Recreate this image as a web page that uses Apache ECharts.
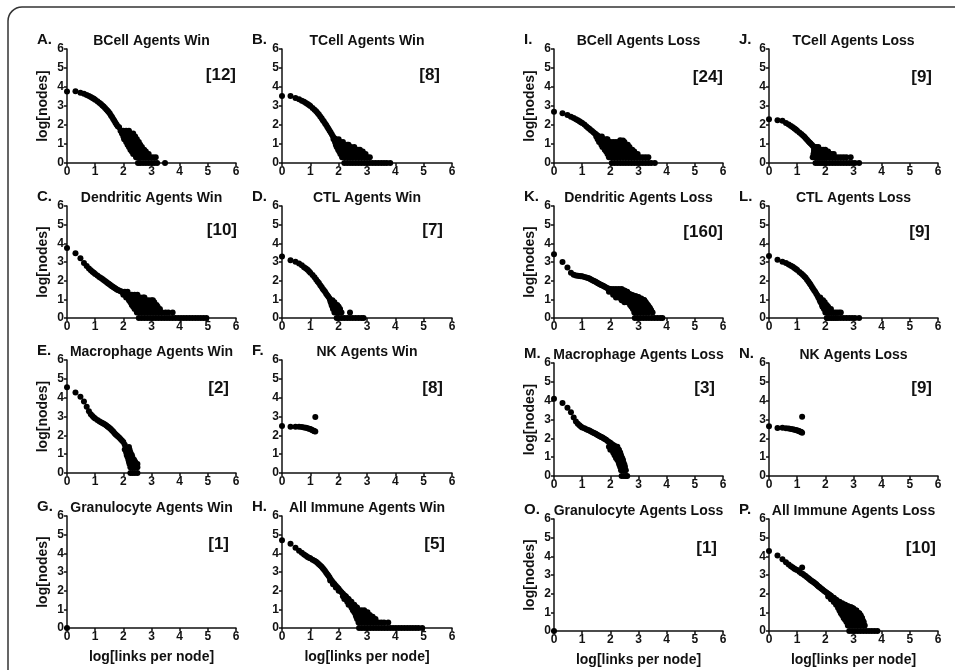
<!DOCTYPE html>
<html><head><meta charset="utf-8">
<script src="https://cdn.jsdelivr.net/npm/echarts@6/dist/echarts.min.js"></script>
<style>html,body{margin:0;padding:0;background:#fff}#c{width:955px;height:670px}</style>
</head><body><div id="c"></div>
<script>
const letters = ['A.','B.','C.','D.','E.','F.','G.','H.','I.','J.','K.','L.','M.','N.','O.','P.'];
const titles = ['BCell Agents Win','TCell Agents Win','Dendritic Agents Win','CTL Agents Win','Macrophage Agents Win','NK Agents Win','Granulocyte Agents Win','All Immune Agents Win',
  'BCell Agents Loss','TCell Agents Loss','Dendritic Agents Loss','CTL Agents Loss','Macrophage Agents Loss','NK Agents Loss','Granulocyte Agents Loss','All Immune Agents Loss'];
const counts = ['[12]','[8]','[10]','[7]','[2]','[8]','[1]','[5]','[24]','[9]','[160]','[9]','[3]','[9]','[1]','[10]'];
const tickValues = [0,1,2,3,4,5,6];
const yName = 'log[nodes]';
const xName = 'log[links per node]';

// ---- A. BCell Win
const bcellWinHead = [[0,3.76],[0.301,3.78],[0.477,3.7],[0.602,3.64],[0.699,3.58],[0.778,3.52],[0.845,3.47],[0.903,3.42],[0.954,3.38],[1,3.33],[1.079,3.25],[1.146,3.17],[1.204,3.1],[1.255,3.03],[1.301,2.97],[1.35,2.9],[1.398,2.82],[1.44,2.75],[1.477,2.68],[1.52,2.6],[1.56,2.5],[1.6,2.42],[1.64,2.32],[1.68,2.22],[1.72,2.12],[1.76,2.02],[1.8,1.94],[1.85,1.88]];
const bcellWinRows = [[1.7,[1.9,2.0,2.1,2.2]],[1.55,[1.95,2.05,2.15,2.25,2.35]],[1.4,[2.0,2.1,2.2,2.3,2.42]],[1.25,[2.03,2.13,2.23,2.33,2.43,2.48]],[1.1,[2.1,2.2,2.3,2.4,2.5,2.55]],[0.954,[2.15,2.25,2.35,2.45,2.55,2.6]],[0.845,[2.2,2.3,2.4,2.5,2.6,2.66]],[0.699,[2.25,2.35,2.45,2.55,2.65,2.74]],[0.602,[2.3,2.4,2.5,2.6,2.7,2.8]],[0.477,[2.35,2.45,2.55,2.65,2.75,2.85,2.9]],[0.301,[2.45,2.55,2.65,2.75,2.85,2.95,3.05,3.15]],[0,[2.52,2.6,2.7,2.8,2.9,3.0,3.1,3.2,3.48]]];
// ---- B. TCell Win
const tcellWinHead = [[0,3.52],[0.301,3.52],[0.477,3.42],[0.602,3.35],[0.699,3.28],[0.778,3.22],[0.845,3.16],[0.903,3.1],[0.954,3.05],[1,3.0],[1.079,2.9],[1.146,2.8],[1.204,2.72],[1.255,2.63],[1.301,2.55],[1.35,2.45],[1.398,2.35],[1.44,2.25],[1.477,2.18],[1.52,2.08],[1.56,2.0],[1.6,1.9],[1.64,1.8],[1.68,1.7],[1.72,1.6],[1.76,1.5],[1.8,1.4],[1.85,1.3],[1.9,1.2]];
const tcellWinRows = [[1.25,[1.82,1.9,2.0]],[1.1,[1.87,1.95,2.05,2.15]],[0.954,[1.9,2.0,2.1,2.2,2.3,2.35]],[0.845,[1.93,2.03,2.13,2.23,2.33,2.43,2.55]],[0.699,[1.98,2.08,2.18,2.28,2.38,2.48,2.58,2.68,2.75]],[0.602,[2.02,2.12,2.22,2.32,2.42,2.52,2.62,2.72,2.85]],[0.477,[2.06,2.16,2.26,2.36,2.46,2.56,2.66,2.76,2.86,2.95]],[0.301,[2.12,2.22,2.32,2.42,2.52,2.62,2.72,2.82,2.92,3.02,3.1]],[0,[2.2,2.3,2.4,2.5,2.6,2.7,2.8,2.9,3.0,3.1,3.2,3.3,3.4,3.5,3.6,3.7,3.82]]];
// ---- C. Dendritic Win
const dendWinHead = [[0,3.75],[0.301,3.47],[0.477,3.2],[0.602,2.95],[0.699,2.78],[0.778,2.65],[0.845,2.56],[0.903,2.48],[0.954,2.42],[1,2.36],[1.079,2.28],[1.146,2.2],[1.204,2.14],[1.255,2.09],[1.301,2.04],[1.35,1.98],[1.398,1.93],[1.44,1.88],[1.477,1.84],[1.52,1.79],[1.56,1.74],[1.6,1.7],[1.64,1.66],[1.68,1.62],[1.72,1.58],[1.76,1.54],[1.8,1.5],[1.85,1.47],[1.9,1.43],[1.95,1.4]];
const dendWinRows = [[1.4,[1.95,2.05,2.15]],[1.25,[2.0,2.1,2.2,2.3,2.4,2.5]],[1.1,[2.1,2.2,2.3,2.4,2.5,2.6,2.7,2.75]],[0.954,[2.2,2.3,2.4,2.5,2.6,2.7,2.8,2.9,3.0,3.05]],[0.845,[2.25,2.35,2.45,2.55,2.65,2.75,2.85,2.95,3.05,3.1]],[0.699,[2.3,2.4,2.5,2.6,2.7,2.8,2.9,3.0,3.1,3.18]],[0.602,[2.35,2.45,2.55,2.65,2.75,2.85,2.95,3.05,3.15,3.22]],[0.477,[2.4,2.5,2.6,2.7,2.8,2.9,3.0,3.1,3.2,3.3]],[0.301,[2.48,2.58,2.68,2.78,2.88,2.98,3.08,3.18,3.28,3.38,3.5,3.6,3.75]],[0,[2.55,2.65,2.75,2.85,2.95,3.05,3.15,3.25,3.35,3.45,3.55,3.65,3.75,3.85,3.95,4.05,4.15,4.25,4.35,4.45,4.55,4.65,4.75,4.85,4.95]]];
// ---- D. CTL Win
const ctlWinHead = [[0,3.3],[0.301,3.1],[0.477,3.02],[0.602,2.92],[0.699,2.82],[0.778,2.72],[0.845,2.65],[0.903,2.58],[0.954,2.5],[1,2.42],[1.079,2.3],[1.146,2.18],[1.204,2.06],[1.255,1.96],[1.301,1.87],[1.35,1.76],[1.398,1.66],[1.44,1.56],[1.477,1.48],[1.52,1.4],[1.56,1.3],[1.6,1.22],[1.64,1.14],[1.68,1.05]];
const ctlWinRows = [[0.954,[1.7,1.78]],[0.845,[1.72,1.8,1.85]],[0.699,[1.75,1.83,1.9,1.95]],[0.602,[1.78,1.86,1.93,2.0]],[0.477,[1.8,1.88,1.96,2.05]],[0.301,[1.85,1.93,2.01,2.1,2.4]],[0,[1.93,2.0,2.1,2.2,2.3,2.4,2.5,2.6,2.7,2.8,2.88]]];
// ---- E. Macrophage Win
const macWinHead = [[0,4.55],[0.301,4.28],[0.477,4.05],[0.602,3.79],[0.699,3.52],[0.778,3.28],[0.845,3.12],[0.903,3.02],[0.954,2.95],[1,2.9],[1.079,2.82],[1.146,2.75],[1.204,2.7],[1.255,2.66],[1.301,2.62],[1.35,2.57],[1.398,2.52],[1.44,2.47],[1.477,2.43],[1.52,2.38],[1.56,2.32],[1.6,2.26],[1.64,2.2],[1.68,2.13],[1.72,2.06],[1.76,2.0],[1.8,1.95],[1.85,1.88],[1.9,1.8],[1.95,1.72],[2.0,1.64],[2.05,1.5],[2.2,1.38]];
const macWinRows = [[1.25,[2.05,2.15,2.22]],[1.1,[2.1,2.18,2.25]],[0.954,[2.12,2.2,2.28,2.3]],[0.845,[2.15,2.23,2.32]],[0.699,[2.18,2.26,2.34,2.38]],[0.602,[2.2,2.28,2.36,2.42]],[0.477,[2.22,2.3,2.38,2.46,2.5]],[0.301,[2.25,2.33,2.41,2.5]],[0,[2.25,2.33,2.41,2.5]]];
// ---- F. NK Win
const nkWinHead = [[0,2.5],[0.301,2.45],[0.477,2.45],[0.602,2.45],[0.699,2.44],[0.778,2.42],[0.845,2.4],[0.903,2.38],[0.954,2.35],[1,2.33],[1.041,2.3],[1.079,2.27],[1.114,2.24],[1.146,2.22],[1.176,2.2],[1.176,2.97]];
const nkWinRows = [];
// ---- G. Granulocyte Win
const granWinHead = [[0,0]];
const granWinRows = [];
// ---- H. All Immune Win
const allWinHead = [[0,4.7],[0.301,4.51],[0.477,4.3],[0.602,4.14],[0.699,4.03],[0.778,3.94],[0.845,3.87],[0.903,3.81],[0.954,3.77],[1,3.73],[1.079,3.66],[1.146,3.6],[1.204,3.55],[1.255,3.48],[1.301,3.42],[1.35,3.35],[1.398,3.28],[1.44,3.2],[1.477,3.13],[1.52,3.05],[1.56,2.96],[1.6,2.88],[1.64,2.8],[1.68,2.7],[1.72,2.6],[1.76,2.52],[1.8,2.44],[1.85,2.36],[1.9,2.26],[1.95,2.18],[2.0,2.1],[2.05,2.0],[2.1,1.92],[2.15,1.84],[2.2,1.76],[2.25,1.68],[2.3,1.6],[2.35,1.5],[2.4,1.42],[2.45,1.33],[2.5,1.25],[2.55,1.18],[2.6,1.12],[1.7,2.55],[1.8,2.35],[1.9,2.17],[2.0,2.0]];
const allWinRows = [[1.7,[2.15,2.25]],[1.55,[2.2,2.28,2.35]],[1.4,[2.3,2.38,2.45]],[1.25,[2.35,2.45,2.55]],[1.1,[2.45,2.55,2.65]],[0.954,[2.5,2.6,2.7,2.8,2.9]],[0.845,[2.55,2.65,2.75,2.85,2.95,3.02]],[0.699,[2.6,2.7,2.8,2.9,3.0,3.1]],[0.602,[2.62,2.72,2.82,2.92,3.02,3.12,3.2]],[0.477,[2.65,2.75,2.85,2.95,3.05,3.15,3.25,3.3]],[0.301,[2.7,2.8,2.9,3.0,3.1,3.2,3.3,3.4,3.5,3.6,3.75]],[0,[2.72,2.82,2.92,3.02,3.12,3.22,3.32,3.42,3.52,3.62,3.72,3.82,3.92,4.02,4.12,4.22,4.32,4.42,4.52,4.62,4.72,4.82,4.95]]];
// ---- I. BCell Loss
const bcellLossHead = [[0,2.7],[0.301,2.62],[0.477,2.52],[0.602,2.44],[0.699,2.37],[0.778,2.3],[0.845,2.25],[0.903,2.2],[0.954,2.15],[1,2.1],[1.079,2.02],[1.146,1.94],[1.204,1.86],[1.255,1.8],[1.301,1.74],[1.35,1.68],[1.398,1.62],[1.44,1.57],[1.477,1.52],[1.52,1.47],[1.56,1.42],[2.35,1.2],[2.45,1.18]];
const bcellLossRows = [[1.4,[1.5,1.6,1.7]],[1.25,[1.55,1.65,1.75,1.85,1.9]],[1.1,[1.6,1.7,1.8,1.9,2.0,2.1,2.2,2.3,2.4,2.5]],[0.954,[1.68,1.78,1.88,1.98,2.08,2.18,2.28,2.38,2.48,2.58,2.62]],[0.845,[1.72,1.82,1.92,2.02,2.12,2.22,2.32,2.42,2.52,2.62,2.68]],[0.699,[1.8,1.9,2.0,2.1,2.2,2.3,2.4,2.5,2.6,2.7,2.78]],[0.602,[1.85,1.95,2.05,2.15,2.25,2.35,2.45,2.55,2.65,2.75,2.85]],[0.477,[1.9,2.0,2.1,2.2,2.3,2.4,2.5,2.6,2.7,2.8,2.9,2.97]],[0.301,[1.95,2.05,2.15,2.25,2.35,2.45,2.55,2.65,2.75,2.85,2.95,3.05,3.15,3.25,3.35]],[0,[2.05,2.15,2.25,2.35,2.45,2.55,2.65,2.75,2.85,2.95,3.05,3.15,3.25,3.35,3.45,3.58]]];
// ---- J. TCell Loss
const tcellLossHead = [[0,2.3],[0.301,2.25],[0.477,2.22],[0.602,2.1],[0.699,2.02],[0.778,1.95],[0.845,1.88],[0.903,1.82],[0.954,1.76],[1,1.7],[1.079,1.6],[1.146,1.52],[1.204,1.45],[1.255,1.38],[1.301,1.3],[1.35,1.22],[1.398,1.15],[1.44,1.08],[1.477,1.02],[1.52,0.96],[1.56,0.9]];
const tcellLossRows = [[0.845,[1.6,1.68,1.75]],[0.699,[1.6,1.68,1.76,1.84,1.92,2.0]],[0.602,[1.6,1.68,1.76,1.84,1.92,2.0,2.1]],[0.477,[1.58,1.66,1.74,1.82,1.9,1.98,2.06,2.14,2.22,2.3]],[0.301,[1.55,1.63,1.71,1.79,1.87,1.95,2.03,2.11,2.19,2.27,2.35,2.45,2.55,2.65,2.75,2.9]],[0,[1.65,1.73,1.81,1.89,1.97,2.05,2.15,2.25,2.35,2.45,2.55,2.65,2.75,2.85,2.95,3.05,3.2]]];
// ---- K. Dendritic Loss
const dendLossHead = [[0,3.42],[0.301,3.0],[0.477,2.7],[0.602,2.43],[0.699,2.32],[0.778,2.28],[0.845,2.26],[0.903,2.25],[0.954,2.24],[1,2.23],[1.079,2.2],[1.146,2.17],[1.204,2.14],[1.255,2.11],[1.301,2.08],[1.35,2.04],[1.398,2.0],[1.44,1.97],[1.477,1.94],[1.52,1.9],[1.56,1.86],[1.6,1.83],[1.64,1.8],[1.68,1.77],[1.72,1.74],[1.76,1.71],[1.8,1.68],[1.85,1.64],[1.9,1.6],[1.95,1.57],[2.0,1.54],[2.05,1.5],[2.1,1.47],[2.15,1.45],[2.2,1.44],[2.25,1.43],[2.3,1.42],[2.35,1.44],[2.4,1.46],[2.45,1.48],[2.5,1.47],[2.55,1.42],[2.6,1.36],[2.65,1.3],[2.7,1.27],[2.8,1.22],[2.9,1.18],[3.0,1.12],[3.1,1.05],[3.2,0.96],[3.25,0.86],[3.3,0.75],[3.35,0.65],[3.4,0.55],[3.45,0.42]];
const dendLossRows = [[1.55,[2.0,2.1,2.2,2.3,2.4]],[1.4,[1.95,2.05,2.15,2.25,2.35,2.45,2.55,2.6]],[1.25,[2.1,2.2,2.3,2.4,2.5,2.6,2.7,2.75]],[1.1,[2.2,2.3,2.4,2.5,2.6,2.7,2.8,2.9,3.0]],[0.954,[2.4,2.5,2.6,2.7,2.8,2.9,3.0,3.1,3.2]],[0.845,[2.5,2.6,2.7,2.8,2.9,3.0,3.1,3.2,3.25]],[0.699,[2.7,2.8,2.9,3.0,3.1,3.2,3.32]],[0.602,[2.75,2.85,2.95,3.05,3.15,3.25,3.36]],[0.477,[2.8,2.9,3.0,3.1,3.2,3.3,3.42]],[0.301,[2.85,2.95,3.05,3.15,3.25,3.35,3.5]],[0,[2.87,2.97,3.07,3.17,3.27,3.37,3.47,3.57,3.67,3.77,3.85]]];
// ---- L. CTL Loss
const ctlLossHead = [[0,3.32],[0.301,3.12],[0.477,3.02],[0.602,2.94],[0.699,2.87],[0.778,2.8],[0.845,2.74],[0.903,2.68],[0.954,2.62],[1,2.57],[1.079,2.47],[1.146,2.38],[1.204,2.3],[1.255,2.22],[1.301,2.15],[1.35,2.05],[1.398,1.96],[1.44,1.86],[1.477,1.78],[1.52,1.68],[1.56,1.58],[1.6,1.48],[1.64,1.4],[1.68,1.3],[1.72,1.2]];
const ctlLossRows = [[1.1,[1.75,1.82]],[0.954,[1.8,1.87,1.92]],[0.845,[1.83,1.9,1.98]],[0.699,[1.88,1.96,2.05]],[0.602,[1.9,1.98,2.06,2.1]],[0.477,[1.95,2.03,2.11,2.2]],[0.301,[2.0,2.08,2.16,2.24,2.32,2.4,2.48,2.55]],[0,[2.05,2.13,2.21,2.29,2.37,2.45,2.55,2.65,2.75,2.85,2.95,3.05,3.2]]];
// ---- M. Macrophage Loss
const macLossHead = [[0,4.1],[0.301,3.88],[0.477,3.62],[0.602,3.39],[0.699,3.1],[0.778,2.9],[0.845,2.78],[0.903,2.7],[0.954,2.63],[1,2.58],[1.079,2.53],[1.146,2.48],[1.204,2.44],[1.255,2.41],[1.301,2.38],[1.35,2.34],[1.398,2.3],[1.44,2.27],[1.477,2.24],[1.52,2.2],[1.56,2.17],[1.6,2.14],[1.64,2.1],[1.68,2.07],[1.72,2.04],[1.76,2.0],[1.8,1.96],[1.85,1.92],[1.9,1.86],[1.95,1.8],[2.0,1.76],[2.05,1.7],[2.1,1.64],[2.15,1.6],[2.2,1.52],[2.25,1.45],[2.3,1.38]];
const macLossRows = [[1.55,[1.95,2.05,2.15,2.25]],[1.4,[2.0,2.08,2.16,2.24,2.3]],[1.25,[2.1,2.18,2.26,2.35]],[1.1,[2.15,2.23,2.31,2.38]],[0.954,[2.2,2.28,2.36,2.42]],[0.845,[2.25,2.33,2.41,2.45]],[0.699,[2.3,2.38,2.47]],[0.602,[2.32,2.4,2.5]],[0.477,[2.35,2.43,2.52]],[0.301,[2.38,2.46,2.55]],[0,[2.4,2.48,2.55,2.6]]];
// ---- N. NK Loss
const nkLossHead = [[0,2.64],[0.301,2.55],[0.477,2.56],[0.602,2.54],[0.699,2.52],[0.778,2.5],[0.845,2.48],[0.903,2.46],[0.954,2.44],[1,2.42],[1.041,2.4],[1.079,2.38],[1.114,2.35],[1.146,2.33],[1.176,2.3],[1.176,3.15]];
const nkLossRows = [];
// ---- O. Granulocyte Loss
const granLossHead = [[0,0]];
const granLossRows = [];
// ---- P. All Immune Loss
const allLossHead = [[0,4.29],[0.301,4.05],[0.477,3.85],[0.602,3.68],[0.699,3.56],[0.778,3.47],[0.845,3.4],[0.903,3.34],[0.954,3.3],[1,3.27],[1.079,3.17],[1.146,3.1],[1.176,3.4],[1.204,3.05],[1.255,2.99],[1.301,2.94],[1.35,2.88],[1.398,2.82],[1.44,2.77],[1.477,2.72],[1.52,2.68],[1.56,2.64],[1.6,2.6],[1.64,2.55],[1.68,2.5],[1.72,2.44],[1.76,2.39],[1.8,2.34],[1.85,2.28],[1.9,2.22],[1.95,2.16],[2.0,2.1],[2.05,2.05],[2.1,2.0],[2.15,1.94],[2.2,1.89],[2.3,1.78],[2.4,1.66],[2.5,1.57],[2.6,1.48],[2.7,1.41],[2.8,1.34],[2.9,1.28],[3.0,1.21],[3.1,1.1],[3.2,0.95],[3.25,0.85],[3.3,0.7],[3.35,0.5]];
const allLossRows = [[1.85,[2.1,2.2]],[1.7,[2.2,2.28,2.35]],[1.55,[2.3,2.4,2.5]],[1.4,[2.38,2.48,2.58,2.7]],[1.25,[2.45,2.55,2.65,2.75,2.85,2.95]],[1.1,[2.5,2.6,2.7,2.8,2.9,3.0,3.1]],[0.954,[2.55,2.65,2.75,2.85,2.95,3.05,3.15,3.2]],[0.845,[2.6,2.7,2.8,2.9,3.0,3.1,3.2,3.25]],[0.699,[2.65,2.75,2.85,2.95,3.05,3.15,3.25,3.3]],[0.602,[2.7,2.8,2.9,3.0,3.1,3.2,3.32]],[0.477,[2.75,2.85,2.95,3.05,3.15,3.25,3.36]],[0.301,[2.8,2.9,3.0,3.1,3.2,3.3,3.4]],[0,[2.85,2.95,3.05,3.15,3.25,3.35,3.45,3.55,3.65,3.75,3.85]]];

const heads = [bcellWinHead,tcellWinHead,dendWinHead,ctlWinHead,macWinHead,nkWinHead,granWinHead,allWinHead,
  bcellLossHead,tcellLossHead,dendLossHead,ctlLossHead,macLossHead,nkLossHead,granLossHead,allLossHead];
const rowsList = [bcellWinRows,tcellWinRows,dendWinRows,ctlWinRows,macWinRows,nkWinRows,granWinRows,allWinRows,
  bcellLossRows,tcellLossRows,dendLossRows,ctlLossRows,macLossRows,nkLossRows,granLossRows,allLossRows];

// layout (pixels)
const colLeft = [67,282,554,769];
const colW = [169,170,169,169];
const rowTopL = [49,206,360,516];
const rowTopR = [49,206,363,519];
const rowH = [114,112,113,112];
const countOff = [[0,26],[-12,26],[1,24],[-9,24],[-7,28],[-9,28],[-7,28],[-7,28],[0,28],[-6,28],[0,26],[-8,26],[-8,25],[-6,25],[-6,29],[-2,29]];

const FF = '"Liberation Sans", Arial, Helvetica, sans-serif';
const grids=[], xAxes=[], yAxes=[], series=[], texts=[];
for (let i=0;i<16;i++){
  const half = i<8?0:1, j=i%8, r=Math.floor(j/2), c=half*2+(j%2);
  const left=colLeft[c], w=colW[c], top=(half?rowTopR:rowTopL)[r], h=rowH[r];
  grids.push({left:left, top:top, width:w, height:h, containLabel:false});
  const ax = {gridIndex:i, type:'value', min:tickValues[0], max:tickValues[tickValues.length-1], interval:1,
    axisLine:{show:true,onZero:false,lineStyle:{color:'#111',width:1.5}},
    axisTick:{show:true,length:3,lineStyle:{color:'#111',width:1.5}},
    axisLabel:{color:'#111',fontWeight:'bold',fontSize:12,margin:3,fontFamily:FF},
    splitLine:{show:false}};
  xAxes.push(Object.assign({},ax));
  yAxes.push(Object.assign({},ax));
  const pts = heads[i].concat(rowsList[i].flatMap(([y,xs])=>xs.map(x=>[x,y])));
  series.push({type:'scatter', xAxisIndex:i, yAxisIndex:i, data:pts, symbol:'circle', symbolSize:6,
    itemStyle:{color:'#000', opacity:1}, clip:false, silent:true});
  texts.push({type:'text', left:left-30, top:top-17, style:{text:letters[i], font:'bold 15px '+FF, fill:'#111'}});
  texts.push({type:'text', x:left+w/2, y:top-8, style:{text:titles[i], font:'bold 14px '+FF, fill:'#111', align:'center', verticalAlign:'middle'}});
  texts.push({type:'text', x:left+w+countOff[i][0], y:top+countOff[i][1], style:{text:counts[i], font:'bold 17px '+FF, fill:'#111', align:'right', verticalAlign:'middle'}});
  if (c===0 || c===2) {
    texts.push({type:'text', x:left-24, y:top+h/2, rotation:Math.PI/2, style:{text:yName, font:'bold 14px '+FF, fill:'#111', align:'center', verticalAlign:'middle'}});
  }
  if (r===3) {
    texts.push({type:'text', x:left+w/2, y:top+h+29, style:{text:xName, font:'bold 14px '+FF, fill:'#111', align:'center', verticalAlign:'middle'}});
  }
}
texts.push({type:'rect', shape:{x:8,y:7,width:1000,height:700,r:[14,0,0,0]}, style:{fill:'none',stroke:'#333',lineWidth:1.5}, silent:true});

const chart = echarts.init(document.getElementById('c'), null, {renderer:'canvas'});
chart.setOption({
  animation:false,
  backgroundColor:'#fff',
  grid:grids, xAxis:xAxes, yAxis:yAxes, series:series,
  graphic:{elements:texts}
});
</script></body></html>
